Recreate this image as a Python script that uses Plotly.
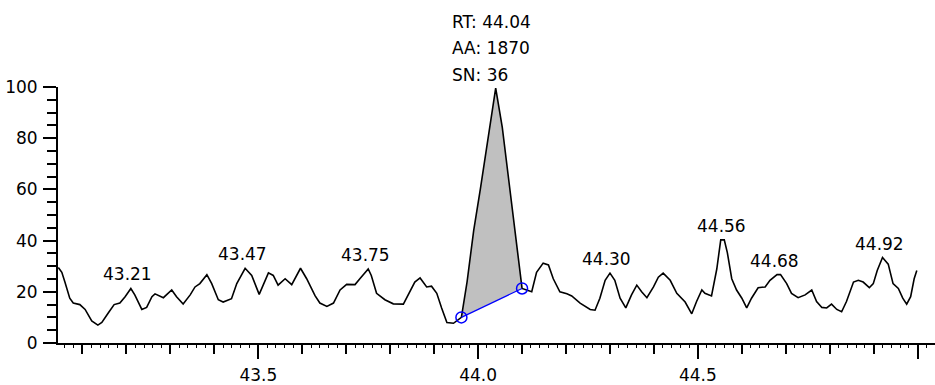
import numpy as np
import plotly.graph_objects as go

# Retention time (min) and relative intensity (%) of the trace
rt = [43.045, 43.053, 43.060, 43.071, 43.079, 43.094, 43.106, 43.121, 43.135, 43.144,
      43.159, 43.172, 43.185, 43.197, 43.210, 43.219, 43.235, 43.246, 43.258, 43.265,
      43.284, 43.303, 43.314, 43.329, 43.345, 43.356, 43.367, 43.383, 43.394, 43.409,
      43.420, 43.439, 43.451, 43.470, 43.485, 43.502, 43.523, 43.534, 43.545, 43.561,
      43.576, 43.596, 43.610, 43.629, 43.640, 43.656, 43.671, 43.686, 43.701, 43.720,
      43.731, 43.750, 43.757, 43.769, 43.788, 43.807, 43.830, 43.841, 43.856, 43.868,
      43.883, 43.894, 43.906, 43.917, 43.929, 43.944, 43.962, 43.975, 43.990, 44.005,
      44.020, 44.040, 44.055, 44.070, 44.085, 44.097, 44.100, 44.122, 44.133, 44.148,
      44.160, 44.171, 44.186, 44.202, 44.213, 44.232, 44.255, 44.266, 44.277, 44.289,
      44.300, 44.311, 44.323, 44.336, 44.349, 44.361, 44.372, 44.384, 44.399, 44.410,
      44.421, 44.437, 44.452, 44.471, 44.486, 44.497, 44.509, 44.516, 44.531, 44.543,
      44.552, 44.560, 44.567, 44.577, 44.588, 44.600, 44.611, 44.622, 44.637, 44.653,
      44.664, 44.680, 44.688, 44.702, 44.713, 44.728, 44.744, 44.759, 44.770, 44.782,
      44.793, 44.804, 44.816, 44.827, 44.838, 44.854, 44.865, 44.876, 44.890, 44.899,
      44.908, 44.920, 44.933, 44.944, 44.956, 44.966, 44.975, 44.984, 44.992, 44.998]

intensity = [29.5, 27.6, 23.8, 17.5, 15.6, 15.0, 13.1, 8.6, 7.0, 8.0,
             11.8, 15.0, 15.6, 18.1, 21.3, 18.8, 13.1, 13.9, 18.1, 19.2,
             17.7, 20.7, 18.1, 15.2, 18.8, 21.9, 23.2, 26.7, 23.2, 16.9,
             16.0, 17.3, 23.2, 29.2, 26.4, 19.0, 27.4, 26.4, 22.6, 25.1,
             22.8, 29.2, 25.1, 18.5, 15.6, 14.3, 15.6, 20.7, 22.9, 22.8,
             25.1, 28.9, 26.4, 19.4, 16.9, 15.3, 15.2, 18.8, 23.8, 25.4,
             21.9, 22.2, 19.4, 13.7, 8.0, 7.7, 10.0, 24.0, 44.0, 60.0,
             77.0, 99.6, 84.2, 63.1, 41.8, 24.7, 21.3, 20.0, 27.6, 31.2,
             30.5, 25.1, 20.0, 19.2, 18.4, 15.6, 13.1, 12.8, 17.5, 24.5,
             27.3, 24.5, 17.5, 13.7, 18.8, 22.6, 20.0, 17.7, 21.9, 25.7,
             27.3, 24.5, 19.4, 16.0, 11.4, 16.2, 20.7, 19.4, 18.4, 28.9,
             40.3, 40.3, 35.3, 25.1, 20.7, 17.5, 13.7, 17.5, 21.6, 21.9,
             24.5, 26.7, 26.7, 23.2, 19.4, 17.7, 18.8, 20.7, 16.2, 13.9,
             13.7, 15.2, 13.1, 12.2, 16.2, 23.8, 24.5, 23.8, 21.6, 23.2,
             28.3, 33.4, 30.8, 23.2, 21.3, 17.5, 15.2, 18.1, 25.1, 28.3]

assert len(rt) == len(intensity)

# Labelled apexes
peak_labels = [43.21, 43.47, 43.75, 44.30, 44.56, 44.68, 44.92]

# Integrated peak
peak_rt = 44.04
peak_area = 1870
peak_sn = 36
peak_start_rt = 43.962
peak_end_rt = 44.100

x_range = [43.0443, 45.0394]
y_range = [0, 100]

FONT = "DejaVu Sans"
rt_arr = np.array(rt)
int_arr = np.array(intensity)

mask = (rt_arr >= peak_start_rt) & (rt_arr <= peak_end_rt)
px = rt_arr[mask]
py = int_arr[mask]
base_y = [float(np.interp(peak_start_rt, rt_arr, int_arr)),
          float(np.interp(peak_end_rt, rt_arr, int_arr))]

fig = go.Figure()

# Shaded integrated area (closed back along the baseline)
fig.add_trace(go.Scatter(x=px, y=py, mode="lines", fill="toself",
                         fillcolor="#c0c0c0", line=dict(width=0),
                         hoverinfo="skip", showlegend=False))

# Chromatogram trace
fig.add_trace(go.Scatter(x=rt, y=intensity, mode="lines",
                         line=dict(color="black", width=1.6),
                         showlegend=False))

# Baseline with start / end markers, on the overlaid axis that carries fine ticks
fig.add_trace(go.Scatter(x=[peak_start_rt, peak_end_rt], y=base_y,
                         mode="lines+markers", xaxis="x2",
                         line=dict(color="#0000ff", width=1.2),
                         marker=dict(symbol="circle-open", size=11,
                                     color="#0000ff", line=dict(width=1.5)),
                         showlegend=False))

annotations = []
for p in peak_labels:
    annotations.append(dict(
        x=p, y=float(np.interp(p, rt_arr, int_arr)), xref="x", yref="y",
        text=f"{p:.2f}", showarrow=False, xanchor="center", yanchor="middle",
        xshift=-3, yshift=14, font=dict(family=FONT, size=17, color="black")))

apex_y = float(np.interp(peak_rt, rt_arr, int_arr))
info_lines = [f"RT: {peak_rt:.2f}", f"AA: {peak_area}", f"SN: {peak_sn}"]
for i, line in enumerate(info_lines):
    annotations.append(dict(
        x=peak_rt, y=apex_y, xref="x", yref="y", text=line, showarrow=False,
        xanchor="left", yanchor="middle", xshift=-46,
        yshift=13 + (2 - i) * 26.7,
        font=dict(family=FONT, size=17, color="black")))

fig.update_layout(
    width=935, height=385,
    margin=dict(l=58, r=0, t=87, b=35),
    paper_bgcolor="white", plot_bgcolor="white",
    font=dict(family=FONT, size=17, color="black"),
    annotations=annotations,
    xaxis=dict(range=x_range, showgrid=False, zeroline=False,
               showline=True, linecolor="black", linewidth=2,
               ticks="outside", tickmode="linear", tick0=43.5, dtick=0.5,
               ticklen=14, tickwidth=1.5, tickcolor="black",
               tickformat=".1f", ticklabelstandoff=2,
               tickfont=dict(family=FONT, size=17, color="black"),
               minor=dict(ticks="outside", tickmode="linear", tick0=43.0,
                          dtick=0.1, ticklen=9, tickwidth=1.5,
                          tickcolor="black", showgrid=False)),
    xaxis2=dict(range=x_range, overlaying="x", anchor="y", side="bottom",
                showgrid=False, zeroline=False, showline=False,
                ticks="outside", tickmode="linear", tick0=43.0, dtick=0.02,
                ticklen=4, tickwidth=1.2, tickcolor="black",
                showticklabels=False),
    yaxis=dict(range=y_range, showgrid=False, zeroline=False,
               showline=True, linecolor="black", linewidth=2,
               ticks="outside", tickmode="linear", tick0=0, dtick=20,
               ticklen=13, tickwidth=1.5, tickcolor="black",
               ticklabelstandoff=2,
               tickfont=dict(family=FONT, size=17, color="black"),
               minor=dict(ticks="outside", tickmode="linear", tick0=0,
                          dtick=5, ticklen=9, tickwidth=1.5,
                          tickcolor="black", showgrid=False)),
)

fig.write_html("out.html")
